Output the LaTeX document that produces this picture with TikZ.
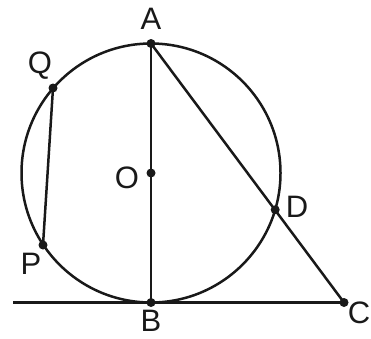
\documentclass[tikz,border=0pt]{standalone}
\usepackage{fontspec}
\setmainfont{Liberation Sans}
\begin{document}
\begin{tikzpicture}[x=1pt,y=-1pt,
  geo/.style={line width=2.5pt,black!90},
  dot/.style={circle,fill=black!90,inner sep=0pt,minimum size=9pt},
  lbl/.style={font=\fontsize{31}{31}\selectfont,text=black!90,inner sep=0pt}]
\useasboundingbox (0,0) rectangle (371,338);
\coordinate (O) at (151,173);
\coordinate (A) at (151,43.5);
\coordinate (B) at (151,302.5);
\coordinate (C) at (344,302.5);
\coordinate (D) at (275.2,209.7);
\coordinate (Q) at (53,88);
\coordinate (P) at (43,245);
\coordinate (L) at (13,302.5);
\draw[geo] (O) circle[radius=129.5];
\draw[geo] (A) -- (B);
\draw[geo] (A) -- (C);
\draw[geo] (L) -- (C);
\draw[geo] (Q) -- (P);
\foreach \p in {A,B,C,D,Q,P,O} \node[dot] at (\p) {};
\node[lbl] (lA) at (151,19) {A};
\node[lbl] (lQ) at (40,66) {Q};
\node[lbl] (lO) at (127,178) {O};
\node[lbl] (lD) at (297,207) {D};
\node[lbl] (lP) at (31,264) {P};
\node[lbl] (lB) at (151,321) {B};
\node[lbl] (lC) at (359,313) {C};
\end{tikzpicture}
\end{document}
